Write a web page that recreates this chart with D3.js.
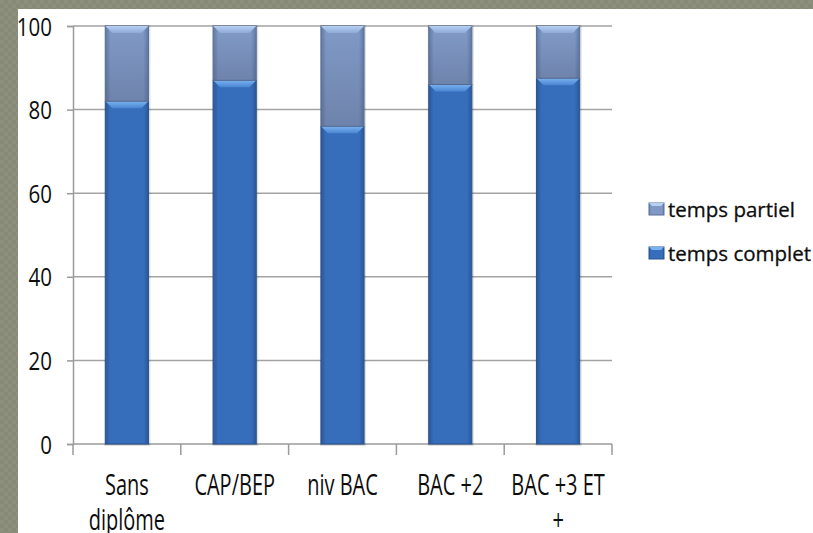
<!DOCTYPE html>
<html>
<head>
<meta charset="utf-8">
<script src="https://cdn.jsdelivr.net/npm/d3@7"></script>
<style>
  body { margin: 0; background: #fff; }
  text { font-family: "Open Sans", "Noto Sans", sans-serif; fill: #0d0d0d; }
</style>
</head>
<body>
<div id="chart"></div>
<script>
// data
var categories = [["Sans", "diplôme"], ["CAP/BEP"], ["niv BAC"], ["BAC +2"], ["BAC +3 ET", "+"]];
var tempsComplet = [82, 87, 76, 86, 87.5];
var tempsPartiel = [18, 13, 24, 14, 12.5];
var yTicks = [0, 20, 40, 60, 80, 100];
var seriesNames = ["temps partiel", "temps complet"];

var W = 813, H = 533;
var svg = d3.select("#chart").append("svg")
    .attr("width", W)
    .attr("height", H);

var defs = svg.append("defs");

// textured border pattern
var pat = defs.append("pattern")
    .attr("id", "tex")
    .attr("width", 8).attr("height", 8)
    .attr("patternUnits", "userSpaceOnUse");
pat.append("rect").attr("width", 8).attr("height", 8).attr("fill", "#878a76");
pat.append("rect").attr("width", 4).attr("height", 4).attr("fill", "#8e907e");
pat.append("rect").attr("x", 4).attr("y", 4).attr("width", 4).attr("height", 4).attr("fill", "#8e907e");

svg.append("rect").attr("width", W).attr("height", H).attr("fill", "url(#tex)");
svg.append("rect").attr("x", 18).attr("y", 9).attr("width", W - 18).attr("height", H - 9).attr("fill", "#fff");

// bar gradients
function hGrad(id, edge, mid) {
    var g = defs.append("linearGradient").attr("id", id)
        .attr("x1", "0%").attr("x2", "100%").attr("y1", "0%").attr("y2", "0%");
    g.append("stop").attr("offset", "0%").attr("stop-color", edge);
    g.append("stop").attr("offset", "12%").attr("stop-color", mid);
    g.append("stop").attr("offset", "88%").attr("stop-color", mid);
    g.append("stop").attr("offset", "100%").attr("stop-color", edge);
}
function vGrad(id, top, bottom) {
    var g = defs.append("linearGradient").attr("id", id)
        .attr("x1", "0%").attr("x2", "0%").attr("y1", "0%").attr("y2", "100%");
    g.append("stop").attr("offset", "0%").attr("stop-color", top);
    g.append("stop").attr("offset", "100%").attr("stop-color", bottom);
}
hGrad("gComplet", "#2a589a", "#376ebc");
hGrad("gPartiel", "#5f7aa6", "#7f98c4");
vGrad("bComplet", "#79b2f0", "#4a86d2");
vGrad("bPartiel", "#b7d0f2", "#8eaad6");
vGrad("pShade", "rgba(60,70,100,0)", "rgba(60,70,100,0.25)");

var x = d3.scaleBand()
    .domain(d3.range(categories.length))
    .range([73, 612])
    .paddingInner(0.6)
    .paddingOuter(0.3);

var y = d3.scaleLinear()
    .domain([0, 100])
    .range([444, 26]);

// gridlines
svg.append("g").selectAll("line")
    .data(yTicks.slice(1))
    .enter().append("line")
    .attr("x1", 73).attr("x2", 612)
    .attr("y1", function(d) { return y(d); })
    .attr("y2", function(d) { return y(d); })
    .attr("stroke", "#a3a3a3").attr("stroke-width", 1.5);

// y axis
var sx = 0.82;
var yAxis = svg.append("g")
    .attr("transform", "translate(73,0)")
    .call(d3.axisLeft(y).tickValues(yTicks).tickSize(6));
yAxis.select(".domain").attr("stroke", "#9a9a9a").attr("stroke-width", 1.5);
yAxis.selectAll(".tick line").attr("stroke", "#9a9a9a").attr("stroke-width", 1.5);
yAxis.selectAll(".tick text")
    .attr("font-size", 25)
    .attr("x", -21 / sx)
    .attr("dy", "0.36em")
    .attr("transform", "scale(" + sx + ",1)")
    .style("font-family", "Open Sans, Noto Sans, sans-serif")
    .attr("fill", "#0d0d0d");

// x axis line and boundary ticks
svg.append("line")
    .attr("x1", 73).attr("x2", 612).attr("y1", y(0)).attr("y2", y(0))
    .attr("stroke", "#9a9a9a").attr("stroke-width", 1.5);
var bounds = d3.range(categories.length + 1).map(function(i) { return 73 + i * x.step(); });
svg.append("g").selectAll("line")
    .data(bounds)
    .enter().append("line")
    .attr("x1", function(d) { return d; }).attr("x2", function(d) { return d; })
    .attr("y1", y(0)).attr("y2", y(0) + 11)
    .attr("stroke", "#9a9a9a").attr("stroke-width", 1.5);

// stacked bars
var stacks = categories.map(function(c, i) {
    return [
        { key: "complet", y0: 0, y1: tempsComplet[i], i: i },
        { key: "partiel", y0: tempsComplet[i], y1: tempsComplet[i] + tempsPartiel[i], i: i }
    ];
});

var bw = x.bandwidth();
var bev = 7;

var barG = svg.append("g").selectAll("g")
    .data(stacks)
    .enter().append("g");

// soft shadow behind bar
barG.append("rect")
    .attr("x", function(d) { return x(d[0].i) - 1; })
    .attr("y", function(d) { return y(d[1].y1) - 1; })
    .attr("width", bw + 3)
    .attr("height", function(d) { return y(0) - y(d[1].y1) + 3; })
    .attr("fill", "rgba(0,0,0,0.12)");

var seg = barG.selectAll("g.seg")
    .data(function(d) { return d; })
    .enter().append("g").attr("class", "seg");

seg.append("rect")
    .attr("x", function(d) { return x(d.i); })
    .attr("y", function(d) { return y(d.y1); })
    .attr("width", bw)
    .attr("height", function(d) { return y(d.y0) - y(d.y1); })
    .attr("fill", function(d) { return d.key === "complet" ? "url(#gComplet)" : "url(#gPartiel)"; })
    .attr("stroke", function(d) { return d.key === "complet" ? "#2a5290" : "#5a6f96"; })
    .attr("stroke-width", 1);

// darker lower part of the partiel segment
seg.filter(function(d) { return d.key === "partiel"; })
    .append("rect")
    .attr("x", function(d) { return x(d.i) + 0.5; })
    .attr("y", function(d) { return y(d.y1) + bev; })
    .attr("width", bw - 1)
    .attr("height", function(d) { return y(d.y0) - y(d.y1) - bev; })
    .attr("fill", "url(#pShade)");

// top bevel
seg.append("path")
    .attr("d", function(d) {
        var x0 = x(d.i), x1 = x0 + bw, t = y(d.y1);
        return "M" + x0 + "," + t + "L" + x1 + "," + t +
            "L" + (x1 - bev) + "," + (t + bev) + "L" + (x0 + bev) + "," + (t + bev) + "Z";
    })
    .attr("fill", function(d) { return d.key === "complet" ? "url(#bComplet)" : "url(#bPartiel)"; });

// category labels (tall, narrow lettering as in the picture)
var lab = svg.append("g").selectAll("text")
    .data(categories)
    .enter().append("text")
    .attr("text-anchor", "middle")
    .attr("font-size", 20)
    .attr("transform", function(d, i) {
        return "translate(" + (x(i) + bw / 2) + ",495) scale(1,1.5)";
    });
lab.selectAll("tspan")
    .data(function(d) { return d; })
    .enter().append("tspan")
    .attr("x", 0)
    .attr("y", function(d, j) { return j * 23.5; })
    .text(function(d) { return d; });

// legend
var legend = svg.append("g").selectAll("g")
    .data(seriesNames)
    .enter().append("g")
    .attr("transform", function(d, i) { return "translate(649," + (203 + i * 44) + ")"; });
legend.append("rect")
    .attr("width", 15).attr("height", 12)
    .attr("fill", function(d, i) { return i === 0 ? "url(#gPartiel)" : "url(#gComplet)"; })
    .attr("stroke", function(d, i) { return i === 0 ? "#5a6f96" : "#2a5290"; });
legend.append("path")
    .attr("d", "M0,0L15,0L12,3L3,3Z")
    .attr("fill", function(d, i) { return i === 0 ? "#b7d0f2" : "#79b2f0"; });
legend.append("text")
    .attr("x", 19)
    .attr("y", 14)
    .attr("font-size", 20.5)
    .attr("stroke", "#0d0d0d")
    .attr("stroke-width", 0.3)
    .text(function(d) { return d; });
</script>
</body>
</html>
